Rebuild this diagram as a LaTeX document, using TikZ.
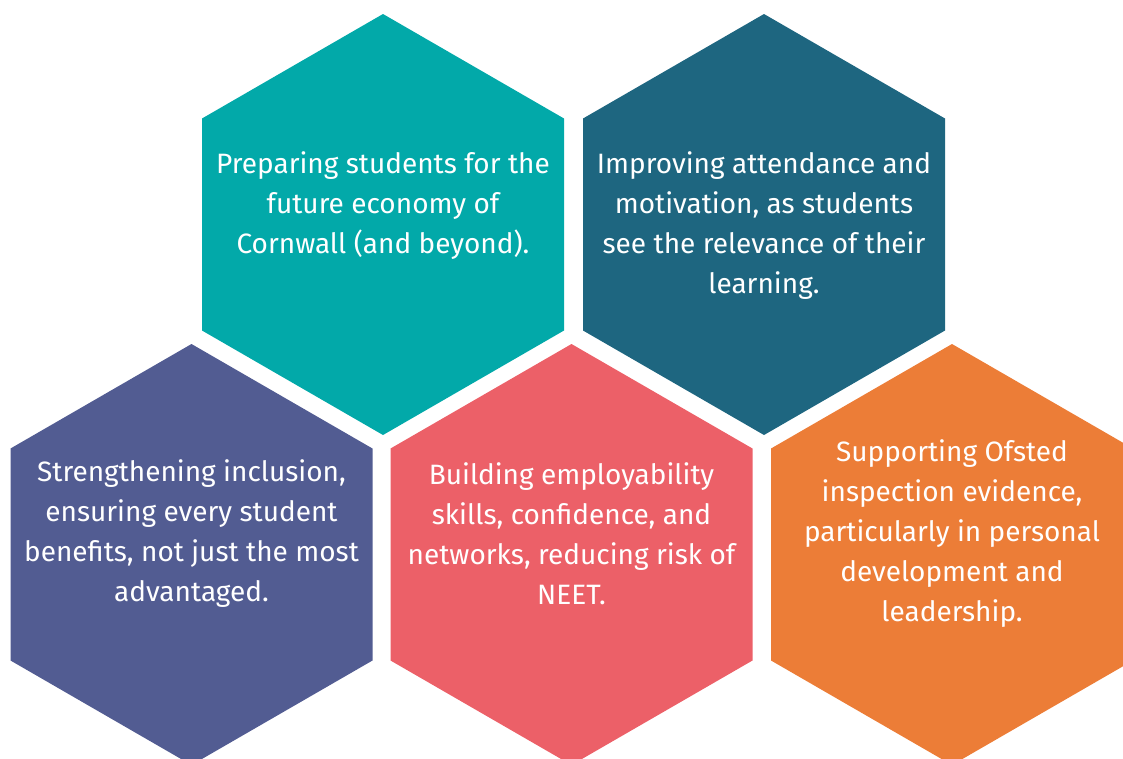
\documentclass[tikz,border=0pt]{standalone}
\usepackage{fontspec}
\setmainfont{Fira Sans}
\definecolor{hteal}{HTML}{02A9A9}
\definecolor{hdark}{HTML}{1E6680}
\definecolor{hpurple}{HTML}{525C92}
\definecolor{hred}{HTML}{EC6068}
\definecolor{horange}{HTML}{EC7D37}
\begin{document}
\begin{tikzpicture}[x=0.75pt,y=-0.75pt,
  hextext/.style={text=white,align=center,font=\fontsize{21pt}{30pt}\selectfont,inner sep=0pt}]
\useasboundingbox (0,0) rectangle (1123,758);
\clip (0,0) rectangle (1123,758);
\newcommand\hexat[3]{\fill[#3] (#1,#2) ++(0,-210.5) -- ++(181,104.5) -- ++(0,212) -- ++(-181,104.5) -- ++(-181,-104.5) -- ++(0,-212) -- cycle;}
\hexat{383}{224.5}{hteal}
\hexat{764}{224.5}{hdark}
\hexat{191.5}{554.5}{hpurple}
\hexat{571.5}{554.5}{hred}
\hexat{952}{554.5}{horange}
\node[hextext] (t1) at (383,206) {Preparing students for the\\future economy of\\Cornwall (and beyond).};
\node[hextext] (t2) at (764,226) {Improving attendance and\\motivation, as students\\see the relevance of their\\learning.};
\node[hextext] (t3) at (191.5,534) {Strengthening inclusion,\\ensuring every student\\benefits, not just the most\\advantaged.};
\node[hextext] (t4) at (571.5,534) {Building employability\\skills, confidence, and\\networks, reducing risk of\\NEET.};
\node[hextext] (t5) at (952,534) {Supporting Ofsted\\inspection evidence,\\particularly in personal\\development and\\leadership.};
\end{tikzpicture}
\end{document}
